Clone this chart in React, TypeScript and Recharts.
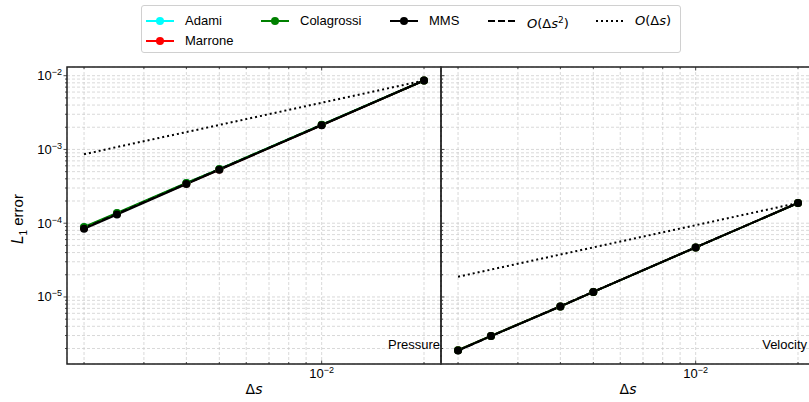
import { LineChart, Line, XAxis, YAxis, CartesianGrid, ReferenceArea } from "recharts";

const FONT = '"Liberation Sans", Arial, Helvetica, sans-serif';
const MATH = '"DejaVu Sans", "Liberation Sans", sans-serif';

// grid spacing Δs
const deltaS = [0.002, 0.0025, 0.004, 0.005, 0.01, 0.02];

// pressure L1 errors
const pressureAdami = [8.8e-5, 1.36e-4, 3.5e-4, 5.4e-4, 2.15e-3, 8.6e-3];
const pressureMarrone = [8.7e-5, 1.35e-4, 3.45e-4, 5.35e-4, 2.14e-3, 8.6e-3];
const pressureColagrossi = [8.9e-5, 1.38e-4, 3.52e-4, 5.42e-4, 2.16e-3, 8.6e-3];
const pressureMMS = [8.4e-5, 1.31e-4, 3.4e-4, 5.3e-4, 2.13e-3, 8.6e-3];
const pressureOrder2 = [8.6e-5, 1.34e-4, 3.44e-4, 5.38e-4, 2.15e-3, 8.6e-3];
const pressureOrder1 = [8.6e-4, 1.08e-3, 1.72e-3, 2.15e-3, 4.3e-3, 8.6e-3];

// velocity L1 errors
const velocityAdami = [1.9e-6, 2.96e-6, 7.45e-6, 1.17e-5, 4.7e-5, 1.88e-4];
const velocityMarrone = [1.9e-6, 2.96e-6, 7.45e-6, 1.17e-5, 4.7e-5, 1.88e-4];
const velocityColagrossi = [1.9e-6, 2.96e-6, 7.45e-6, 1.17e-5, 4.7e-5, 1.88e-4];
const velocityMMS = [1.88e-6, 2.95e-6, 7.4e-6, 1.17e-5, 4.7e-5, 1.88e-4];
const velocityOrder2 = [1.88e-6, 2.94e-6, 7.52e-6, 1.175e-5, 4.7e-5, 1.88e-4];
const velocityOrder1 = [1.88e-5, 2.35e-5, 3.76e-5, 4.7e-5, 9.4e-5, 1.88e-4];

const xTicks = [0.002, 0.003, 0.004, 0.005, 0.006, 0.007, 0.008, 0.009, 0.01, 0.02];
const yTicks = [
  2e-6, 3e-6, 4e-6, 5e-6, 6e-6, 7e-6, 8e-6, 9e-6,
  1e-5, 2e-5, 3e-5, 4e-5, 5e-5, 6e-5, 7e-5, 8e-5, 9e-5,
  1e-4, 2e-4, 3e-4, 4e-4, 5e-4, 6e-4, 7e-4, 8e-4, 9e-4,
  1e-3, 2e-3, 3e-3, 4e-3, 5e-3, 6e-3, 7e-3, 8e-3, 9e-3,
  1e-2,
];

const X_DOMAIN = [0.001782, 0.02244];
const Y_DOMAIN = [1.233e-6, 1.312e-2];
const PLOT_H = 297;

const isMajor = (v: number) => Math.abs(Math.log10(v) - Math.round(Math.log10(v))) < 1e-6;
const expOf = (v: number) => String(Math.round(Math.log10(v))).replace("-", "\u2212");

const buildRows = (s: number[][]) =>
  deltaS.map((ds, i) => ({
    ds,
    adami: s[0][i],
    marrone: s[1][i],
    colagrossi: s[2][i],
    mms: s[3][i],
    order2: s[4][i],
    order1: s[5][i],
  }));

const pressureRows = buildRows([pressureAdami, pressureMarrone, pressureColagrossi, pressureMMS, pressureOrder2, pressureOrder1]);
const velocityRows = buildRows([velocityAdami, velocityMarrone, velocityColagrossi, velocityMMS, velocityOrder2, velocityOrder1]);

const XTick = (props: any) => {
  const { x, y, payload } = props;
  const major = isMajor(payload.value);
  const len = major ? 3.5 : 2;
  return (
    <g>
      <line x1={x} x2={x} y1={y} y2={y - len} stroke="#222" strokeWidth={0.8} />
      <line x1={x} x2={x} y1={y - PLOT_H} y2={y - PLOT_H + len} stroke="#222" strokeWidth={0.8} />
      {major && (
        <text x={x} y={y + 14} textAnchor="middle" fontSize={13} fontFamily={FONT} fill="#000">
          10<tspan dy={-5} fontSize={9}>{expOf(payload.value)}</tspan>
        </text>
      )}
    </g>
  );
};

const YTickLeft = (props: any) => {
  const { x, y, payload } = props;
  const major = isMajor(payload.value);
  return (
    <g>
      <line x1={x} x2={x - (major ? 3.5 : 2)} y1={y} y2={y} stroke="#222" strokeWidth={0.8} />
      {major && (
        <text x={x - 5} y={y + 4.5} textAnchor="end" fontSize={13} fontFamily={FONT} fill="#000">
          10<tspan dy={-5} fontSize={9}>{expOf(payload.value)}</tspan>
        </text>
      )}
    </g>
  );
};

const YTickRight = (props: any) => {
  const { x, y, payload } = props;
  const major = isMajor(payload.value);
  return <line x1={x} x2={x + (major ? 3.5 : 2)} y1={y} y2={y} stroke="#222" strokeWidth={0.8} />;
};

const SERIES = [
  { key: "adami", color: "#00ffff" },
  { key: "marrone", color: "#ff0000" },
  { key: "colagrossi", color: "#008000" },
  { key: "mms", color: "#000000" },
];

const Panel = ({ rows, left, width, yWidth, first }: any) => (
  <div style={{ position: "absolute", left, top: 0 }}>
    <LineChart width={width} height={402} data={rows} margin={{ top: 67, right: 1, bottom: 0, left: 0 }}>
      <CartesianGrid stroke="#c8c8c8" strokeDasharray="3 2" strokeWidth={0.7} />
      <XAxis
        dataKey="ds"
        type="number"
        scale="log"
        domain={X_DOMAIN}
        allowDataOverflow
        ticks={xTicks}
        interval={0}
        tickSize={0}
        tickMargin={0}
        tickLine={false}
        axisLine={false}
        height={38}
        tick={<XTick />}
      />
      <YAxis
        type="number"
        scale="log"
        domain={Y_DOMAIN}
        allowDataOverflow
        ticks={yTicks}
        interval={0}
        tickSize={0}
        tickMargin={0}
        tickLine={false}
        axisLine={false}
        width={yWidth}
        tick={first ? <YTickLeft /> : <YTickRight />}
      />
      {SERIES.map((s) => (
        <Line
          key={s.key}
          dataKey={s.key}
          type="linear"
          stroke={s.color}
          strokeWidth={2}
          dot={{ r: 4, fill: s.color, stroke: s.color, strokeWidth: 0 }}
          activeDot={false}
          isAnimationActive={false}
        />
      ))}
      <Line dataKey="order2" type="linear" stroke="#000" strokeWidth={2} strokeDasharray="7 3" dot={false} activeDot={false} isAnimationActive={false} />
      <Line dataKey="order1" type="linear" stroke="#000" strokeWidth={2} strokeDasharray="2 3" dot={false} activeDot={false} isAnimationActive={false} />
      <ReferenceArea
        x1={X_DOMAIN[0]}
        x2={X_DOMAIN[1]}
        y1={Y_DOMAIN[0]}
        y2={Y_DOMAIN[1]}
        fill="none"
        fillOpacity={0}
        stroke="#222"
        strokeWidth={1.5}
        ifOverflow="visible"
      />
    </LineChart>
  </div>
);

const LegendIcon = ({ color, dash, dot }: any) => (
  <svg width={28} height={10} style={{ position: "absolute", left: 0, top: -5 }}>
    <line x1={0} x2={28} y1={5} y2={5} stroke={color} strokeWidth={2} strokeDasharray={dash} />
    {dot && <circle cx={14} cy={5} r={4} fill={color} />}
  </svg>
);

const legendItems = [
  { x: 4, y: 15, color: "#00ffff", dot: true, label: <span>Adami</span> },
  { x: 4, y: 35, color: "#ff0000", dot: true, label: <span>Marrone</span> },
  { x: 119, y: 15, color: "#008000", dot: true, label: <span>Colagrossi</span> },
  { x: 248, y: 15, color: "#000", dot: true, label: <span>MMS</span> },
  {
    x: 346, y: 15, color: "#000", dash: "7 3",
    label: <span style={{ fontFamily: MATH }}><i>O</i>(Δ<i>s</i><sup style={{ fontSize: 9 }}>2</sup>)</span>,
  },
  {
    x: 454, y: 15, color: "#000", dash: "2 3",
    label: <span style={{ fontFamily: MATH }}><i>O</i>(Δ<i>s</i>)</span>,
  },
];

const ChartLegend = () => (
  <div
    style={{
      position: "absolute",
      left: 141,
      top: 5,
      width: 538,
      height: 46,
      border: "1px solid #d0d0d0",
      borderRadius: 3,
      background: "#fff",
      fontFamily: FONT,
      fontSize: 13,
    }}
  >
    {legendItems.map((it, i) => (
      <div key={i} style={{ position: "absolute", left: it.x, top: it.y }}>
        <LegendIcon color={it.color} dash={it.dash} dot={it.dot} />
        <div style={{ position: "absolute", left: 39, top: -9, whiteSpace: "nowrap", lineHeight: "17px" }}>{it.label}</div>
      </div>
    ))}
  </div>
);

const textStyle: any = { position: "absolute", fontFamily: FONT, fontSize: 13, whiteSpace: "nowrap", color: "#000" };

export default function App() {
  return (
    <div style={{ position: "absolute", left: 0, top: 0, width: 809, height: 402, overflow: "hidden", background: "#fff" }}>
      <Panel rows={pressureRows} left={0} width={442} yWidth={67} first />
      <Panel rows={velocityRows} left={440} width={376} yWidth={1} first={false} />
      <ChartLegend />
      <div style={{ ...textStyle, right: 809 - 440, top: 337 }}>Pressure</div>
      <div style={{ ...textStyle, right: 2, top: 337 }}>Velocity</div>
      <div
        style={{
          ...textStyle,
          fontSize: 15,
          left: 19,
          top: 219,
          transform: "translate(-50%, -50%) rotate(-90deg)",
        }}
      >
        <i style={{ fontFamily: MATH }}>L</i><sub style={{ fontSize: 10 }}>1</sub> error
      </div>
      <div style={{ ...textStyle, fontFamily: MATH, fontSize: 14, left: 254, top: 381, transform: "translateX(-50%)" }}>
        Δ<i>s</i>
      </div>
      <div style={{ ...textStyle, fontFamily: MATH, fontSize: 14, left: 628, top: 381, transform: "translateX(-50%)" }}>
        Δ<i>s</i>
      </div>
    </div>
  );
}
